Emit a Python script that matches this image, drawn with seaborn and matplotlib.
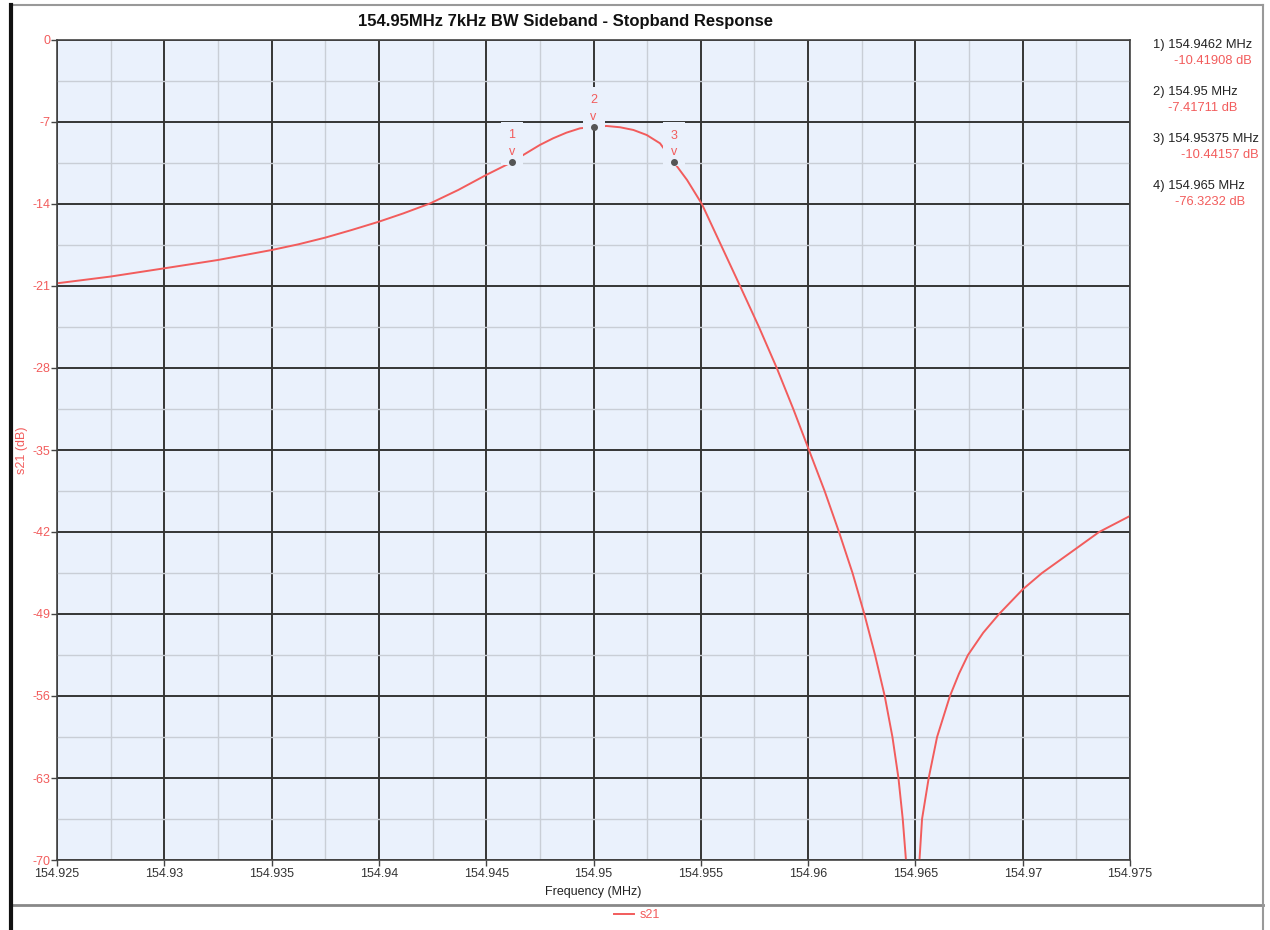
import matplotlib
matplotlib.use("Agg")
import matplotlib.pyplot as plt
from matplotlib.lines import Line2D
from matplotlib.ticker import AutoMinorLocator
import seaborn as sns

# Curva s21 (MHz / dB)
freq = [154.925, 154.92747, 154.93, 154.9325, 154.935, 154.93625, 154.9375,
        154.93873, 154.94, 154.94114, 154.9424, 154.9437, 154.945, 154.9462,
        154.94665, 154.9475, 154.94812, 154.94874, 154.94937, 154.95, 154.95061,
        154.95124, 154.95186, 154.95248, 154.9531, 154.95375, 154.95436,
        154.95505, 154.95594, 154.95683, 154.95771, 154.95854, 154.95931,
        154.96004, 154.96077, 154.96144, 154.96207, 154.96262, 154.96312,
        154.96357, 154.96393, 154.96421, 154.96441, 154.96456, 154.965,
        154.96519, 154.96531, 154.96562, 154.96601, 154.96661,
        154.96703, 154.96745, 154.96816, 154.9689, 154.97, 154.9709,
        154.9725, 154.97356, 154.975]
s21 = [-20.77, -20.2, -19.49, -18.78, -17.93, -17.44, -16.87,
       -16.22, -15.51, -14.8, -13.94, -12.8, -11.52, -10.42,
       -9.9, -8.96, -8.39, -7.91, -7.54, -7.42, -7.34,
       -7.45, -7.68, -8.11, -8.82, -10.44, -11.95,
       -14.0, -17.5, -21.0, -24.5, -28.0, -31.5,
       -35.0, -38.5, -42.0, -45.5, -49.0, -52.5,
       -56.0, -59.5, -63.0, -66.5, -70.0, -76.32,
       -70.0, -66.5, -63.0, -59.5, -56.0,
       -54.1, -52.5, -50.6, -49.0, -46.9, -45.5,
       -43.4, -42.0, -40.63]

# Marcadores
marker_ids = ["1", "2", "3", "4"]
marker_freq = [154.9462, 154.95, 154.95375, 154.965]
marker_freq_txt = ["154.9462", "154.95", "154.95375", "154.965"]
marker_db = [-10.41908, -7.41711, -10.44157, -76.3232]

xticks = [154.925, 154.93, 154.935, 154.94, 154.945, 154.95, 154.955,
          154.96, 154.965, 154.97, 154.975]
xtick_labels = ["154.925", "154.93", "154.935", "154.94", "154.945", "154.95",
                "154.955", "154.96", "154.965", "154.97", "154.975"]
yticks = [0, -7, -14, -21, -28, -35, -42, -49, -56, -63, -70]

red = "#f25c5c"
bg = "#eaf1fc"

plt.rcParams["font.family"] = ["Liberation Sans", "DejaVu Sans"]

fig = plt.figure(figsize=(12.7, 9.3), dpi=100)
ax = fig.add_axes([57 / 1270, 70 / 930, 1073 / 1270, 820 / 930])
ax.set_facecolor(bg)

sns.lineplot(x=freq, y=s21, ax=ax, color=red, linewidth=1.4, estimator=None, sort=False)

ax.set_xlim(154.925, 154.975)
ax.set_ylim(-70, 0)
ax.set_xticks(xticks)
ax.set_xticklabels(xtick_labels)
ax.set_yticks(yticks)
ax.set_yticklabels([str(t) for t in yticks])
ax.xaxis.set_minor_locator(AutoMinorLocator(2))
ax.yaxis.set_minor_locator(AutoMinorLocator(2))
ax.grid(which="major", color="#353535", linewidth=1.4)
ax.grid(which="minor", color="#c9ced6", linewidth=1.0)
ax.set_axisbelow(True)
ax.tick_params(which="major", length=4, width=1, color="#444", labelsize=9, pad=2)
ax.tick_params(which="minor", length=0)
ax.tick_params(axis="x", labelcolor="#333")
ax.tick_params(axis="y", labelcolor=red, pad=1)
for sp in ax.spines.values():
    sp.set_color("#444")
    sp.set_linewidth(1.2)

ax.set_xlabel("Frequency (MHz)", fontsize=9, color="#222", labelpad=4)
ax.set_ylabel("s21 (dB)", fontsize=9, color=red, labelpad=3)
ax.set_title("154.95MHz 7kHz BW Sideband - Stopband Response",
             fontsize=12, fontweight="bold", color="#111", pad=10,
             x=(565 - 57) / 1073)

# Marcadores no gráfico (o 4 fica abaixo da escala)
for lab, f, v in zip(marker_ids, marker_freq, marker_db):
    if v < -70:
        continue
    ax.plot(f, v, "o", color="#555", markersize=4, zorder=5)
    ax.annotate(f"{lab}\nv", xy=(f, v), xytext=(0, 3), textcoords="offset points",
                ha="center", va="bottom", color=red, fontsize=9, linespacing=1.5,
                bbox=dict(boxstyle="square,pad=0.6", fc=bg, ec="none"), zorder=4)

# Leitura dos marcadores à direita
for i, (lab, ft, v) in enumerate(zip(marker_ids, marker_freq_txt, marker_db)):
    t1 = fig.text(1153 / 1270, 1 - (45 + 47 * i) / 930, f"{lab}) {ft} MHz",
                  ha="left", va="center", fontsize=9.3, color="#222")
    ax.annotate(f"{v} dB", xy=(1, 0), xycoords=t1, xytext=(0, -3),
                textcoords="offset points", ha="right", va="top",
                fontsize=9.3, color=red, annotation_clip=False)

# Legenda
fig.legend(handles=[Line2D([], [], color=red, linewidth=1.4)], labels=["s21"],
           loc="center", bbox_to_anchor=(637 / 1270, 1 - 915 / 930), frameon=False,
           fontsize=9, handlelength=1.6, handletextpad=0.4, labelcolor=red)

# Moldura da figura
fig.add_artist(Line2D([12 / 1270, 1263 / 1270], [1 - 905 / 930] * 2,
                      transform=fig.transFigure, color="#888", linewidth=2))
fig.add_artist(Line2D([12 / 1270, 1263 / 1270], [1 - 5 / 930] * 2,
                      transform=fig.transFigure, color="#999", linewidth=1.5))
fig.add_artist(Line2D([11 / 1270] * 2, [0, 1 - 5 / 930],
                      transform=fig.transFigure, color="#111", linewidth=3))
fig.add_artist(Line2D([1263 / 1270] * 2, [0, 1 - 5 / 930],
                      transform=fig.transFigure, color="#999", linewidth=1.5))

fig.savefig("out.png", dpi=100, facecolor="white")
